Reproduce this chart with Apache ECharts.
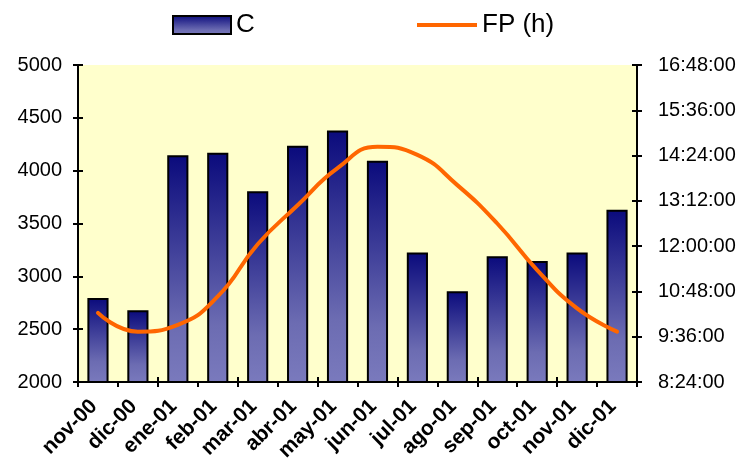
<!DOCTYPE html>
<html>
<head>
<meta charset="utf-8">
<script src="https://cdn.jsdelivr.net/npm/echarts@6/dist/echarts.min.js"></script>
<style>
html,body{margin:0;padding:0;background:#fff;}
#chart{width:743px;height:463px;}
</style>
</head>
<body>
<div id="chart"></div>
<script>
const categories = ['nov-00','dic-00','ene-01','feb-01','mar-01','abr-01','may-01','jun-01','jul-01','ago-01','sep-01','oct-01','nov-01','dic-01'];
const cValues = [2795, 2680, 4145, 4170, 3805, 4235, 4380, 4095, 3225, 2860, 3190, 3145, 3225, 3630];
const fpValues = ['10:14','9:44','9:55','10:40','12:03','13:05','14:04','14:38','14:25','13:37','12:36','11:22','10:21','9:44'];
const leftTicks = {min: 2000, max: 5000, interval: 500};
const rightTicks = {min: '8:24', max: '16:48', interval: '1:12'};

function toMin(s){ const p = s.split(':'); return parseInt(p[0],10)*60 + parseInt(p[1],10); }
function fmtTime(m){ m = Math.round(m); const h = Math.floor(m/60); const mm = m%60; return h + ':' + (mm<10?'0':'') + mm + ':00'; }

const fpMin = fpValues.map(toMin);
const rMin = toMin(rightTicks.min), rMax = toMin(rightTicks.max), rInt = toMin(rightTicks.interval);

const FONT = '"Liberation Sans", Arial, sans-serif';
const barGrad = new echarts.graphic.LinearGradient(0,0,0,1,[
  {offset:0, color:'#0a0a7c'},
  {offset:0.75, color:'#6c6cb2'},
  {offset:1, color:'#7a7abd'}
]);

const chart = echarts.init(document.getElementById('chart'), null, {renderer:'canvas'});
const axisLine = {show:true, lineStyle:{color:'#000', width:2}};
chart.setOption({
  animation:false,
  backgroundColor:'#fff',
  grid:{left:78, right:106, top:65, bottom:81, show:true, backgroundColor:'#ffffcc', borderWidth:0,
        containLabel:false, outerBoundsMode:'none'},
  legend:[
    {data:[{name:'C', icon:'rect'}], left:167, top:7, itemWidth:58, itemHeight:18, itemGap:10,
     textStyle:{fontSize:26, color:'#000', fontFamily:FONT}},
    {data:[{name:'FP (h)', icon:'path://M0,0 L30,0 L30,2 L0,2 Z'}], left:412, top:7, itemWidth:60, itemHeight:18,
     textStyle:{fontSize:26, color:'#000', fontFamily:FONT}}
  ],
  xAxis:[
    {type:'category', data:categories, boundaryGap:true, position:'bottom',
     axisLine:axisLine,
     axisTick:{show:true, alignWithLabel:false, length:5, lineStyle:{color:'#000', width:2}},
     axisLabel:{rotate:45, margin:17, fontSize:21, fontWeight:'bold', color:'#000', fontFamily:FONT, interval:0,
                formatter:function(v){return v + '\u00a0';}},
     splitLine:{show:false}},
    {type:'category', data:categories, boundaryGap:true, position:'bottom',
     axisLine:{show:false},
     axisTick:{show:true, inside:true, length:5, lineStyle:{color:'#000', width:2}},
     axisLabel:{show:false}, splitLine:{show:false}}
  ],
  yAxis:[
    {type:'value', position:'left', min:leftTicks.min, max:leftTicks.max, interval:leftTicks.interval,
     axisLine:axisLine,
     axisTick:{show:true, length:5, lineStyle:{color:'#000', width:2}},
     axisLabel:{margin:16, fontSize:20, color:'#000', fontFamily:FONT, formatter:function(v){return String(v);}},
     splitLine:{show:false}},
    {type:'value', position:'right', min:rMin, max:rMax, interval:rInt,
     axisLine:axisLine,
     axisTick:{show:true, length:5, lineStyle:{color:'#000', width:2}},
     axisLabel:{margin:21, fontSize:20, color:'#000', fontFamily:FONT, formatter:fmtTime},
     splitLine:{show:false}},
    {type:'value', position:'left', min:leftTicks.min, max:leftTicks.max, interval:leftTicks.interval,
     axisLine:{show:false},
     axisTick:{show:true, inside:true, length:5, lineStyle:{color:'#000', width:2}},
     axisLabel:{show:false}, splitLine:{show:false}},
    {type:'value', position:'right', min:rMin, max:rMax, interval:rInt,
     axisLine:{show:false},
     axisTick:{show:true, inside:true, length:5, lineStyle:{color:'#000', width:2}},
     axisLabel:{show:false}, splitLine:{show:false}}
  ],
  series:[
    {name:'C', type:'bar', xAxisIndex:0, yAxisIndex:0, data:cValues, barWidth:'53%',
     itemStyle:{color:barGrad, borderColor:'#000', borderWidth:2}},
    {name:'FP (h)', type:'line', xAxisIndex:0, yAxisIndex:1, data:fpMin, smooth:0.5,
     symbol:'none', lineStyle:{color:'#ff6600', width:4, cap:'round'}, itemStyle:{color:'#ff6600'}, z:5}
  ]
});
</script>
</body>
</html>
